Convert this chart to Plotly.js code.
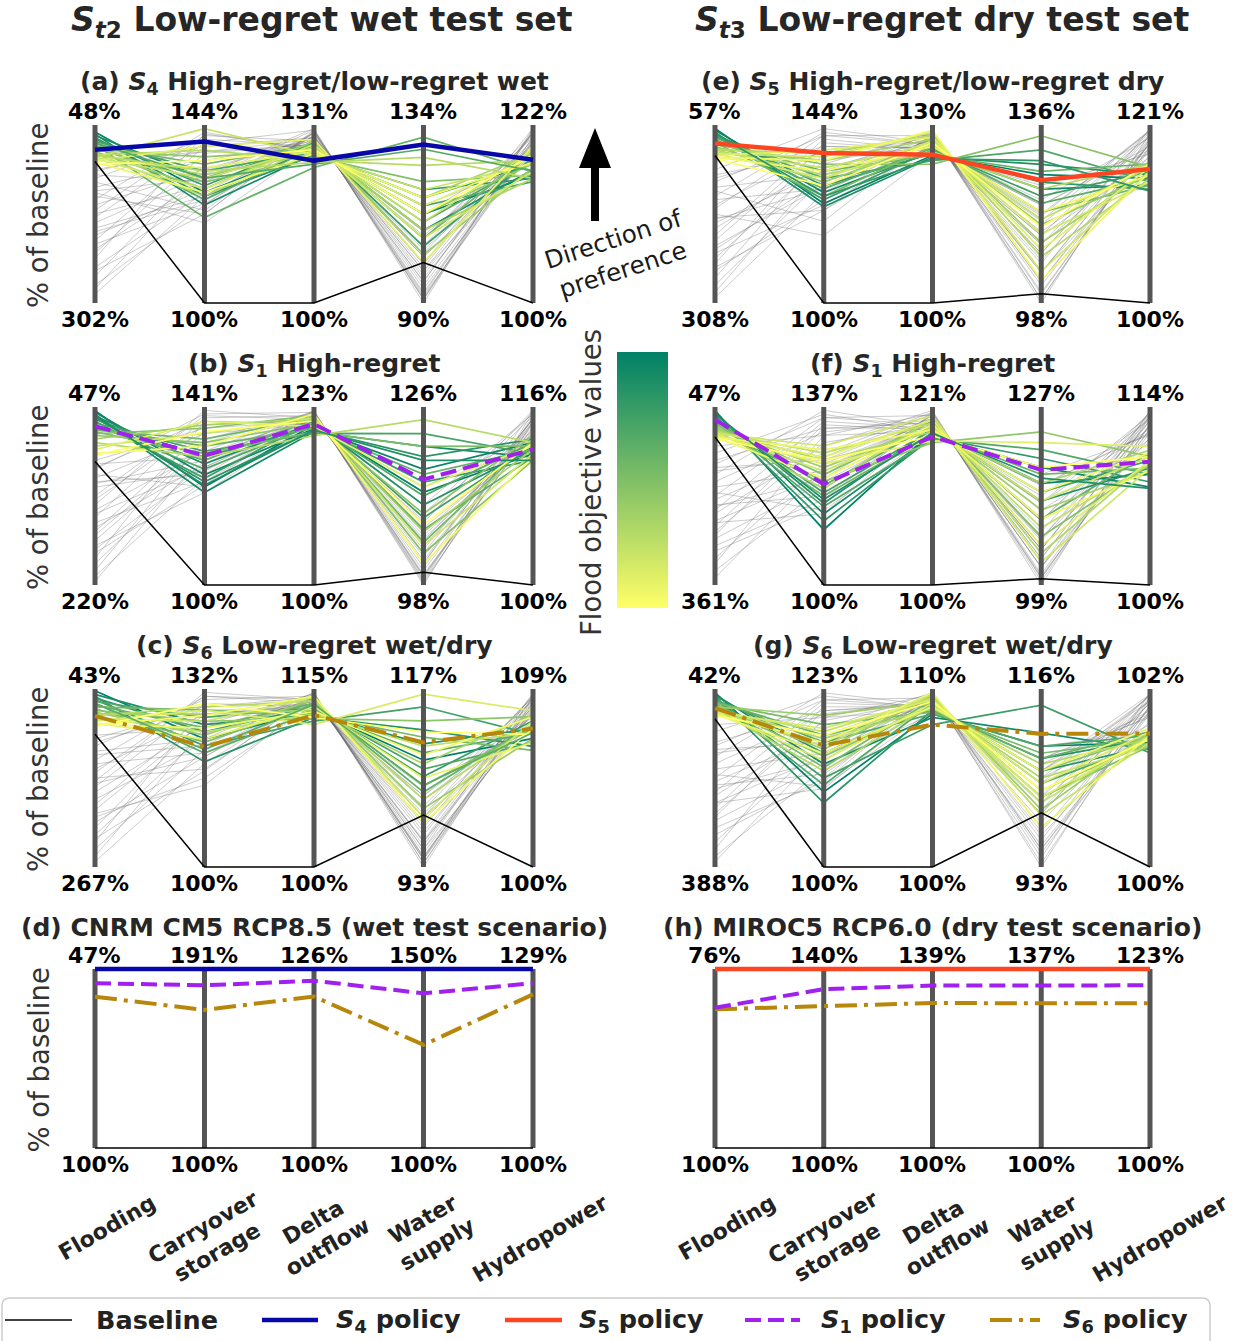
<!DOCTYPE html>
<html><head><meta charset="utf-8">
<script src="https://cdn.plot.ly/plotly-3.0.1.min.js"></script>
<style>html,body{margin:0;padding:0;background:#fff}#chart{width:1237px;height:1341px}</style>
</head><body><div id="chart"></div>
<script>
// ---------------- DATA (all values in % of baseline) ----------------
const objectives = ['Flooding','Carryover<br>storage','Delta<br>outflow','Water<br>supply','Hydropower'];
const baseline = [100,100,100,100,100];

// axis end labels (top / bottom) for each panel
const topLabels_a = [48,144,131,134,122],  bottomLabels_a = [302,100,100,90,100];
const topLabels_b = [47,141,123,126,116],  bottomLabels_b = [220,100,100,98,100];
const topLabels_c = [43,132,115,117,109],  bottomLabels_c = [267,100,100,93,100];
const topLabels_d = [47,191,126,150,129],  bottomLabels_d = [100,100,100,100,100];
const topLabels_e = [57,144,130,136,121],  bottomLabels_e = [308,100,100,98,100];
const topLabels_f = [47,137,121,127,114],  bottomLabels_f = [361,100,100,99,100];
const topLabels_g = [42,123,110,116,102],  bottomLabels_g = [388,100,100,93,100];
const topLabels_h = [76,140,139,137,123],  bottomLabels_h = [100,100,100,100,100];

// policy lines
const policy_a_S4 = [83.3,139.9,124.8,129.2,117.7];
const policy_b_S1 = [65.7,129.8,120.8,114.6,112.2];
const policy_c_S6 = [76.8,121.6,112.8,109.8,107.0];
const policy_d_S4 = [47,191,126,150,129];
const policy_d_S1 = [51.2,182.7,124.3,143.2,126.7];
const policy_d_S6 = [55.2,170.2,122.0,128.8,124.9];
const policy_e_S5 = [82.9,137.1,125.0,124.2,115.8];
const policy_f_S1 = [69.3,121.0,117.5,117.1,109.7];
const policy_g_S6 = [79.0,115.7,108.0,110.2,101.5];
const policy_h_S5 = [76,140,139,137,123];
const policy_h_S1 = [81.2,135.5,135.4,133.5,120.9];
const policy_h_S6 = [81.4,131.8,131.6,129.9,118.6];

// solutions better than baseline on flooding (coloured by flood objective)
const colored_a = [
[58,127.3,126.7,112,115.8],[61,124.2,126.0,116,117.2],[63,130.8,127.3,108,116.5],[66,126.4,125.7,118,115.4],
[68,129.0,127.9,104,118.0],[71,132.6,126.4,114,115.0],[73,125.5,127.0,110,117.6],[76,121.1,123.6,131,116.3],
[78,134.3,127.6,106,118.7],[81,129.9,125.4,120,115.8],[84,136.1,126.7,112,117.2],[86,128.2,128.2,102,116.7],
[89,131.7,126.0,116,118.5],[89,126.4,127.3,108,115.4],[91,137.8,124.8,124,117.6],[94,130.8,127.0,110,118.9],
[94,143.1,125.7,118,117.2],[96,128.2,127.6,106,116.3],[99,133.4,126.4,114,118.0],[99,138.7,128.5,100,119.4],
[101,127.3,126.0,116,117.4],[104,135.2,126.7,112,118.3],[73,130.8,124.2,128,116.3],[91,132.6,124.5,126,115.4]];
const gray_a = [
[276.6,124.2,129.8,92.2,120.5],[251.2,127.3,129.1,95.3,121.1],[225.8,130.8,128.5,99.7,119.8],[200.4,125.5,129.5,93.5,119.4],
[175,129,127.9,104.1,120.7],[162.3,133,128.8,97.9,118.7],[149.6,122,130.1,90.9,121.3],[136.9,135.2,128.2,102.3,120.2],
[124.2,140.5,127.3,107.6,117.6],[119.1,129.9,129.5,94.4,119.8],[111.5,137.4,127.6,105.8,120.9],[238.5,141.8,126.7,112,119.1],
[213.1,138.7,128.8,97,120],[187.7,131.7,130.4,90,121.6],[263.9,134.3,127.9,103.2,118.3],[289.3,126.4,129.1,96.2,119.6],
[154.7,142.2,126.4,114.2,117.2],[129.3,122.9,129.8,92.6,120.5],[98.8,137.4,128.5,98.8,121.1],[205.5,128.2,128.2,101.4,118],
[180.1,139.6,130.1,91.3,120.2],[144.5,119.8,127.3,106.7,118.9],
[281.7,132.6,128.8,97.9,120.9],[256.3,122,129.8,91.8,119.4],[230.9,137,127.6,105.8,120.5],[195.3,126.4,129.1,95.3,121.3],
[169.9,141.4,128.2,101.4,118.9],[142,130.8,130.1,90.9,120],[114,138.7,128.5,99.7,121.6],[218.2,124.6,127.9,104.1,118.5]];

const colored_b = [
[50.5,122.6,120.7,112.6,111.8],[52.2,125.4,120.2,116.2,112.8],[53.9,121.3,119.8,119.8,111.5],[55.7,127.9,120.9,110.6,112.2],
[57.4,123.8,120.0,118.2,113.1],[59.1,129.5,120.5,114.2,111.2],[60.8,124.6,121.2,108.6,112.5],[62.6,130.8,119.6,121.8,111.8],
[64.3,126.7,120.7,112.0,112.8],[66.0,128.7,121.4,106.7,111.5],[67.8,132.0,120.2,115.4,112.2],[69.5,133.6,121.6,104.7,113.1],
[71.2,130.3,119.8,119.8,112.5],[73.0,136.1,121.9,103.0,111.2],[74.7,132.8,120.9,109.2,113.4],[78.1,136.9,121.4,106.4,112.2],
[81.6,129.5,119.3,124.0,112.8],[85.1,134.9,121.6,104.2,111.8],[88.5,137.7,120.5,113.4,112.5],[92.0,132.0,122.1,101.4,111.5],
[93.7,135.3,121.2,107.5,112.8],[55.7,123.0,120.0,117.6,111.2]];
const gray_b = [
[211.4,124.6,121.9,100.8,114.4],[199.2,128.7,122.3,98.8,115.2],[185.4,127.1,121.4,104.2,113.6],[171.6,132.8,122.1,100.2,114.7],
[159.5,123.8,121.6,102.5,114.1],[147.3,130.8,122.5,98,115.5],[137,136.9,121.2,106.4,113.3],[124.9,126.2,121.9,101.4,115],
[116.2,134.9,120.7,112,112.8],[107.6,139.4,122.3,99.4,114.6],[102.4,129.5,121.4,105,113.9],[194,137.7,120.9,109.2,115.4],
[164.6,127.9,122.1,99.7,113.8],[142.2,140.2,121.6,103.6,114.9],[119.7,125.4,122.5,98.6,114.2],[98.9,136.1,121.2,107.8,115.7],
[176.8,132,120.5,113.4,113.4],[154.3,138.5,121.9,101.9,114.7],[112.7,122.6,121.4,105.8,113.1],[206.2,133.6,122.3,99.1,115],
[216.5,130.3,121.6,103,114.9],[188.9,123,122.3,99.4,113.9],[168.1,135.3,120.9,108.1,115.2],[150.8,127.1,121.9,101.4,115.7],
[133.5,139,121.4,105.3,113.4],[121.4,128.7,122.5,98.3,114.6],[105.8,137.7,120.7,110.6,115.4],[181.9,121.3,121.2,107,113]];

const colored_c = [
[45.2,123.0,113.2,107.4,106.5],[49.7,125.6,112.9,109.6,107.0],[52.0,118.9,112.6,111.5,106.1],[54.2,124.3,113.5,105.2,107.4],
[56.4,121.8,112.3,114.6,106.7],[58.7,126.9,113.4,106.2,106.3],[60.9,120.5,113.1,108.4,106.8],[63.2,125.0,113.8,103.1,107.2],
[65.4,128.2,112.8,110.5,105.9],[67.6,122.4,113.7,104.0,107.0],[69.9,126.2,112.5,112.7,107.6],[72.1,123.7,114.1,100.9,106.5],
[74.4,127.5,113.2,106.9,107.7],[76.6,128.8,114.0,102.1,107.2],[78.8,124.3,112.9,109.3,106.8],[81.1,126.2,114.3,99.7,107.4],
[83.3,128.2,112.0,116.3,107.9],[85.6,123.0,113.5,105.0,106.3],[87.8,127.2,114.4,99.0,107.0],[87.8,125.0,113.1,108.1,107.6],
[90.0,129.4,112.6,111.2,106.7],[60.9,121.1,113.7,104.0,106.8]];
const gray_c = [
[260.3,118.6,114.4,94.2,108.3],[244.6,121.1,114.1,96.6,108.6],[226.7,124,113.8,98.8,107.7],[211,119.8,114.6,93.5,108.5],
[195.3,126.2,114,97.8,108.1],[181.9,122.4,114.3,95.4,108.8],[166.2,129.4,113.5,102.1,107.6],[155,117.6,114.4,94.4,108.2],
[143.8,127.5,113.7,100.7,108.6],[132.6,130.7,114.1,96.4,107.9],[121.4,123,114.7,93,108.4],[110.2,128.2,113.4,103.8,107.2],
[101.2,125,114,98.3,108.7],[235.6,128.8,114.3,94.9,108],[204.3,116,113.7,100.2,107.7],[172.9,125.6,114.6,94,108.6],
[137.1,120.5,113.8,99.2,108.1],[114.7,130.1,114.4,94.4,107.8],[217.7,126.9,113.5,102.6,108.4],[159.5,131.4,114.1,95.9,108.6],
[253.6,125,114,97.3,108.5],[231.2,117.3,114.6,94,107.9],[188.6,127.5,113.5,101.2,108.6],[161.7,119.8,114.3,95.4,107.5],
[148.3,130.7,113.8,99.7,108.7],[125.9,121.8,114.7,93.5,108.1],[105.7,128.8,113.7,102.6,107.7],[199.8,114.7,114.1,96.4,108.3]];

const colored_e = [
[62.0,124.6,124.9,125.4,114.7],[64.5,127.3,125.5,122.3,113.9],[67.0,123.8,124.6,127.6,115.1],[69.6,129.0,125.2,123.8,113.4],
[72.1,125.5,125.8,120.8,115.5],[74.6,130.8,124.0,130.7,114.3],[77.1,128.2,126.1,119.3,114.7],[79.6,132.6,124.9,126.1,116.4],
[82.1,126.4,126.4,117.4,113.9],[84.6,134.3,123.4,133.7,116.0],[87.1,129.9,127.0,114.7,115.1],[89.6,135.2,127.6,110.9,115.5],
[92.1,131.7,125.5,122.3,116.4],[92.1,137.0,128.2,107.9,114.7],[94.7,133.4,126.7,115.9,116.0],[97.2,136.1,128.8,104.8,115.5],
[97.2,130.8,127.3,112.8,114.3],[99.7,137.8,127.9,109.4,116.0],[102.2,132.6,126.4,117.4,115.1],[102.2,135.2,129.1,102.9,115.5],
[104.7,129.0,127.0,114.3,116.4],[69.6,126.4,124.3,128.4,113.2]];
const gray_e = [
[300.5,127.3,127.9,104.5,119.3],[282.9,130.8,127,110.5,120.2],[262.8,125.5,128.2,101.8,118.1],[245.3,135.2,126.4,114.7,119.7],
[227.7,129,127.6,106.4,120.6],[212.6,140.5,125.8,118.9,118.5],[195.1,132.6,128.5,99.9,118.9],[182.5,116.7,125.2,123.1,117.6],
[170,137.8,127.3,108.6,120],[157.4,142.2,126.7,112.4,116.8],[144.9,131.7,127.9,104.5,119.5],[132.3,138.7,126.1,116.6,120.4],
[119.8,143.1,127,110.5,117.9],[272.9,137,128.5,98.8,119.1],[237.7,124.2,126.7,113.2,117.2],[202.6,134.3,128.8,98,120],
[162.4,128.2,127.6,107.1,118.7],[137.3,141.4,128.2,102.6,118.3],[252.8,139.6,125.8,120,119.5],[187.5,122.9,126.4,115.5,120.4],
[292.9,133.4,127.3,108.6,119.7],[257.8,122.9,128.5,100.3,118.5],[220.2,138.7,126.1,117,120.2],[190,128.2,127.9,104.8,117.4],
[175,141.4,126.7,112.4,120.4],[149.9,120.2,128.2,102.6,118.9],[127.3,137,125.8,118.9,118.1],[232.7,130.8,128.8,98.8,119.3]];

const colored_f = [
[53.3,111.5,118.1,115.0,108.7],[56.4,114.8,117.6,117.5,107.7],[59.6,117.0,118.5,112.2,109.2],[62.7,113.3,117.4,118.9,108.1],
[65.8,119.2,118.3,113.6,109.8],[69.0,116.3,117.2,120.3,108.7],[72.1,120.7,118.9,109.4,110.4],[75.3,118.5,117.9,116.4,109.2],
[78.4,122.9,119.3,106.6,109.5],[81.5,121.5,116.8,123.1,110.1],[84.7,124.4,118.7,110.8,109.0],[87.8,120.0,119.7,104.0,109.8],
[87.8,125.9,118.1,115.0,110.6],[91.0,127.4,119.1,108.0,109.5],[94.1,123.7,118.5,112.2,110.1],[94.1,128.9,120.0,102.6,109.2],
[97.2,125.2,117.0,121.4,110.9],[97.2,126.6,119.5,105.2,109.8],[100.4,128.1,118.3,113.6,110.4],[100.4,122.2,118.9,109.4,109.0],
[103.5,125.9,117.6,117.5,110.1],[59.6,117.8,117.9,115.8,107.6]];
const gray_f = [
[335.9,120.4,119.7,103.2,112.9],[313.9,125.2,119.3,106.3,113.4],[291.9,117.8,120.2,100.4,112],[266.8,129.6,118.9,109.1,113.2],
[248,122.9,120,101.8,113.7],[229.1,134,118.5,111.9,112.3],[210.3,127.4,120.4,99.6,112.6],[197.7,115.5,117.9,116.4,111.8],
[178.9,131.8,119.5,104.6,113.3],[166.3,136.3,118.7,110.8,111.2],[153.8,125.9,119.7,103.2,113],[141.2,132.6,119.1,107.4,113.6],
[128.6,135.5,118.1,114.7,111.9],[323.3,131.1,120.2,100.1,112.7],[279.4,121.5,118.9,109.1,111.5],[235.4,128.9,120.6,99,113.3],
[188.3,123.7,119.3,106,112.5],[147.5,134.8,120,101.8,112.2],[257.4,133.3,118.3,113,113],[219.7,118.5,119.5,104.6,113.6],
[348.4,124.4,119.5,104.6,113.2],[301.3,116.7,120.4,100.1,112.3],[273.1,132.6,118.5,111.9,113.4],[222.8,122.2,120,101.8,111.6],
[204,134.8,118.9,109.1,113.6],[160,126.6,120.2,100.7,112.6],[116.1,131.1,118.1,114.7,112],[251.1,114.8,119.3,106.3,112.9]];

const colored_g = [
[48.9,109.7,108.6,108.6,101.40],[52.4,113.3,108.4,110.3,101.32],[55.8,108.3,108.8,107.0,101.44],[55.8,114.7,109.0,105.4,101.36],
[59.3,111.5,108.0,113.9,101.28],[62.8,116.1,108.6,108.6,101.48],[62.8,110.6,109.2,103.8,101.40],[66.2,117.0,108.8,107.0,101.52],
[69.7,112.9,109.4,102.0,101.36],[69.7,118.4,108.7,107.7,101.44],[73.1,114.3,109.0,105.4,101.48],[76.6,119.6,109.3,102.9,101.40],
[76.6,115.2,109.6,100.4,101.52],[80.1,116.6,108.9,106.3,101.44],[80.1,112.4,109.1,104.5,101.36],[83.5,117.5,109.5,101.3,101.48],
[83.5,115.6,109.7,99.7,101.40],[87.0,113.8,109.2,103.8,101.52],[87.0,117.9,109.4,102.0,101.44],[90.4,116.1,109.8,98.1,101.48],
[90.4,114.7,109.0,105.4,101.56],[93.9,117.0,109.3,102.9,101.44]];
const gray_g = [
[367.2,112.7,109.6,100.4,101.84],[339.6,116.1,109.2,103.8,101.92],[311.9,111,109.8,95.3,101.72],[284.2,118.9,109.4,102,101.88],
[263.4,114.3,109.7,94.2,101.96],[242.7,121.2,109,105.4,101.76],[221.9,117,109.5,97.6,101.8],[208.1,110.4,108.8,107,101.68],
[187.3,119.8,109.3,99.9,101.9],[173.5,122.5,109.1,104.5,101.6],[159.6,116.1,109.6,96.5,101.86],[145.8,120.2,109.2,102.2,101.94],
[125,122.1,108.9,106.3,101.7],[353.4,119.3,109.7,93.5,101.82],[298,113.3,108.6,108.6,101.52],[249.6,117.9,109.8,93,101.9],
[197.7,114.7,109.4,98.8,101.78],[152.7,121.6,109.5,95.8,101.74],[273.8,120.7,109,105.4,101.86],[228.8,112,109.3,101.1,101.94],
[377.6,115.2,109.5,99.9,101.88],[325.7,111.5,109.8,94.8,101.76],[291.1,120.2,109.1,104.5,101.92],[235.8,113.8,109.6,97.1,101.64],
[215,121.6,109,105.4,101.94],[166.6,116.6,109.7,95.3,101.8],[111.2,119.3,108.8,107,101.72],[263.4,110.1,109.3,101.3,101.84]];

// ---------------- STYLE / LAYOUT ----------------
const W = 1237, H = 1341;
const FONT = 'DejaVu Sans, Verdana, sans-serif';
const floodScale = [[0,'#008066'],[1,'#ffff66']]; // matplotlib "summer": best flooding = green
const styles = {
  Baseline:{color:'#000000', width:1.5, dash:'solid'},
  S4:{color:'#0808a8', width:4.5, dash:'solid'},
  S5:{color:'#ff4422', width:4.5, dash:'solid'},
  S1:{color:'#a020f0', width:4, dash:'16px,7px'},
  S6:{color:'#b8860b', width:4, dash:'22px,7px,4px,7px'}
};
const colX = [[95,533],[715,1150]];
const rowY = [[125,303],[407,585],[689,867],[969,1148]];

const panels = [
 {col:0,row:0,title:'(a) <i>S</i><sub>4</sub> High-regret/low-regret wet',top:topLabels_a,bot:bottomLabels_a,gray:gray_a,colored:colored_a,pol:[[policy_a_S4,'S4']]},
 {col:0,row:1,title:'(b) <i>S</i><sub>1</sub> High-regret',top:topLabels_b,bot:bottomLabels_b,gray:gray_b,colored:colored_b,pol:[[policy_b_S1,'S1']]},
 {col:0,row:2,title:'(c) <i>S</i><sub>6</sub> Low-regret wet/dry',top:topLabels_c,bot:bottomLabels_c,gray:gray_c,colored:colored_c,pol:[[policy_c_S6,'S6']]},
 {col:0,row:3,title:'(d) CNRM CM5 RCP8.5 (wet test scenario)',top:topLabels_d,bot:bottomLabels_d,gray:[],colored:[],pol:[[policy_d_S6,'S6'],[policy_d_S1,'S1'],[policy_d_S4,'S4']]},
 {col:1,row:0,title:'(e) <i>S</i><sub>5</sub> High-regret/low-regret dry',top:topLabels_e,bot:bottomLabels_e,gray:gray_e,colored:colored_e,pol:[[policy_e_S5,'S5']]},
 {col:1,row:1,title:'(f) <i>S</i><sub>1</sub> High-regret',top:topLabels_f,bot:bottomLabels_f,gray:gray_f,colored:colored_f,pol:[[policy_f_S1,'S1']]},
 {col:1,row:2,title:'(g) <i>S</i><sub>6</sub> Low-regret wet/dry',top:topLabels_g,bot:bottomLabels_g,gray:gray_g,colored:colored_g,pol:[[policy_g_S6,'S6']]},
 {col:1,row:3,title:'(h) MIROC5 RCP6.0 (dry test scenario)',top:topLabels_h,bot:bottomLabels_h,gray:[],colored:[],pol:[[policy_h_S6,'S6'],[policy_h_S1,'S1'],[policy_h_S5,'S5']]}
];

function hexToRgb(h){return [parseInt(h.slice(1,3),16),parseInt(h.slice(3,5),16),parseInt(h.slice(5,7),16)];}
function scaleColor(t){
  const a = hexToRgb(floodScale[0][1]), b = hexToRgb(floodScale[1][1]);
  const c = a.map((v,i)=>Math.round(v+(b[i]-v)*t));
  return 'rgb('+c.join(',')+')';
}
function norm(v, top, bot){ return v.map((x,i)=>(x-bot[i])/(top[i]-bot[i])); }
const pxX = x => x/W, pxY = y => 1 - y/H;

const traces = [], annotations = [], shapes = [];
const layout = {width:W,height:H,margin:{l:0,r:0,t:0,b:0},paper_bgcolor:'#ffffff',plot_bgcolor:'rgba(0,0,0,0)',
  showlegend:false,hovermode:false,font:{family:FONT,color:'#000'}};

function ann(x,y,text,o){ annotations.push(Object.assign({x:pxX(x),y:pxY(y),xref:'paper',yref:'paper',text:text,showarrow:false,
  xanchor:'center',yanchor:'middle',font:{family:FONT,size:20,color:'#000'}},o||{})); }

const xs = [0,1,2,3,4];
panels.forEach((p,k)=>{
  const n = k+1, sfx = n===1?'':String(n);
  const xa = 'x'+sfx, ya = 'y'+sfx;
  const [x0,x1] = colX[p.col], u = (x1-x0)/4;
  const [y0,y1] = rowY[p.row], h = y1-y0;
  layout['xaxis'+sfx] = {domain:[(x0-0.15*u)/W,(x1+0.15*u)/W],range:[-0.15,4.15],visible:false,fixedrange:true};
  layout['yaxis'+sfx] = {domain:[1-(y1+0.06*h)/H,1-(y0-0.06*h)/H],range:[-0.06,1.06],visible:false,fixedrange:true};
  const base = {type:'scatter',mode:'lines',xaxis:xa,yaxis:ya,hoverinfo:'skip',showlegend:false};
  p.gray.forEach(v=>traces.push(Object.assign({},base,{x:xs,y:norm(v,p.top,p.bot),line:{color:'rgba(115,115,115,0.36)',width:1}})));
  if(p.colored.length){
    const fl = p.colored.map(v=>v[0]), mn = Math.min(...fl), mx = Math.max(...fl);
    p.colored.forEach(v=>traces.push(Object.assign({},base,{x:xs,y:norm(v,p.top,p.bot),
      line:{color:scaleColor((v[0]-mn)/(mx-mn)),width:1.7}})));
  }
  const axx=[], axy=[];
  xs.forEach(i=>{axx.push(i,i,null);axy.push(0,1,null);});
  traces.push(Object.assign({},base,{x:axx,y:axy,line:{color:'#555555',width:5}}));
  traces.push(Object.assign({},base,{x:xs,y:norm(baseline,p.top,p.bot),line:styles.Baseline}));
  p.pol.forEach(([v,s])=>traces.push(Object.assign({},base,{x:xs,y:norm(v,p.top,p.bot),line:styles[s]})));
  xs.forEach(i=>{
    annotations.push({xref:xa,yref:ya,x:i,y:1,yanchor:'bottom',xanchor:'center',showarrow:false,yshift:-1,
      text:'<b>'+p.top[i]+'%</b>',font:{family:FONT,size:22,color:'#000'}});
    annotations.push({xref:xa,yref:ya,x:i,y:0,yanchor:'top',xanchor:'center',showarrow:false,yshift:-2,
      text:'<b>'+p.bot[i]+'%</b>',font:{family:FONT,size:22,color:'#000'}});
  });
  ann((x0+x1)/2, y0-42, '<b>'+p.title+'</b>', {font:{family:FONT,size:25,color:'#262626'}});
  if(p.col===0) ann(38,(y0+y1)/2+2,'% of baseline',{textangle:-90,font:{family:FONT,size:27.5,color:'#333'}});
});

// column headers
ann(322,22,'<b><i>S</i><sub><i>t</i>2</sub> Low-regret wet test set</b>',{font:{family:FONT,size:33,color:'#262626'}});
ann(942,22,'<b><i>S</i><sub><i>t</i>3</sub> Low-regret dry test set</b>',{font:{family:FONT,size:33,color:'#262626'}});

// objective names under bottom row
const labelPos = [[107,1227],[210,1240],[320,1235],[430,1232],[540,1238]];
[0,620].forEach(off=>{
  objectives.forEach((t,i)=>ann(labelPos[i][0]+off,labelPos[i][1],'<b>'+t+'</b>',{textangle:-30,font:{family:FONT,size:22,color:'#222'}}));
});

// colour bar (flood objective)
traces.push({type:'scatter',mode:'markers',x:[-9,-9],y:[-9,-9],xaxis:'x',yaxis:'y',hoverinfo:'skip',showlegend:false,
  marker:{color:[0,1],cmin:0,cmax:1,colorscale:[[0,floodScale[1][1]],[1,floodScale[0][1]]],showscale:true,opacity:0,
  colorbar:{x:pxX(617),xanchor:'left',y:pxY(480),yanchor:'middle',len:256,lenmode:'pixels',thickness:51,thicknessmode:'pixels',
    outlinewidth:0,ticks:'',showticklabels:false,xpad:0,ypad:0}}});
ann(591,483,'Flood objective values',{textangle:-90,font:{family:FONT,size:27.5,color:'#333'}});

// direction of preference arrow
const P = (x,y)=>pxX(x)+','+pxY(y);
shapes.push({type:'path',xref:'paper',yref:'paper',fillcolor:'#000',line:{width:0},
  path:'M'+P(591,221)+' L'+P(591,168)+' L'+P(579,168)+' L'+P(595,128)+' L'+P(611,168)+' L'+P(599,168)+' L'+P(599,221)+' Z'});
ann(618,255,'Direction of<br>preference',{textangle:-18,font:{family:FONT,size:24.5,color:'#1a1a1a'}});

// legend
const r=8, L=2, R=1210, T=1298, B=1350;
shapes.push({type:'path',xref:'paper',yref:'paper',line:{color:'#cccccc',width:1.5},fillcolor:'rgba(255,255,255,0)',
  path:'M'+P(L+r,T)+' L'+P(R-r,T)+' Q'+P(R,T)+' '+P(R,T+r)+' L'+P(R,B)+' L'+P(L,B)+' L'+P(L,T+r)+' Q'+P(L,T)+' '+P(L+r,T)+' Z'});
const legendItems = [
  ['Baseline',5,72,94,'Baseline'],
  ['S4',262,318,334,'<i>S</i><sub>4</sub> policy'],
  ['S5',505,562,577,'<i>S</i><sub>5</sub> policy'],
  ['S1',745,800,819,'<i>S</i><sub>1</sub> policy'],
  ['S6',990,1040,1061,'<i>S</i><sub>6</sub> policy']];
legendItems.forEach(([s,a,b,tx,label])=>{
  const st = styles[s];
  shapes.push({type:'line',xref:'paper',yref:'paper',x0:pxX(a),x1:pxX(b),y0:pxY(1320),y1:pxY(1320),
    line:{color:st.color,width:st.width,dash:st.dash}});
  ann(tx,1320,'<b>'+label+'</b>',{xanchor:'left',font:{family:FONT,size:25.5,color:'#222'}});
});

layout.annotations = annotations;
layout.shapes = shapes;
Plotly.newPlot('chart',traces,layout,{staticPlot:true,displayModeBar:false});
</script></body></html>
